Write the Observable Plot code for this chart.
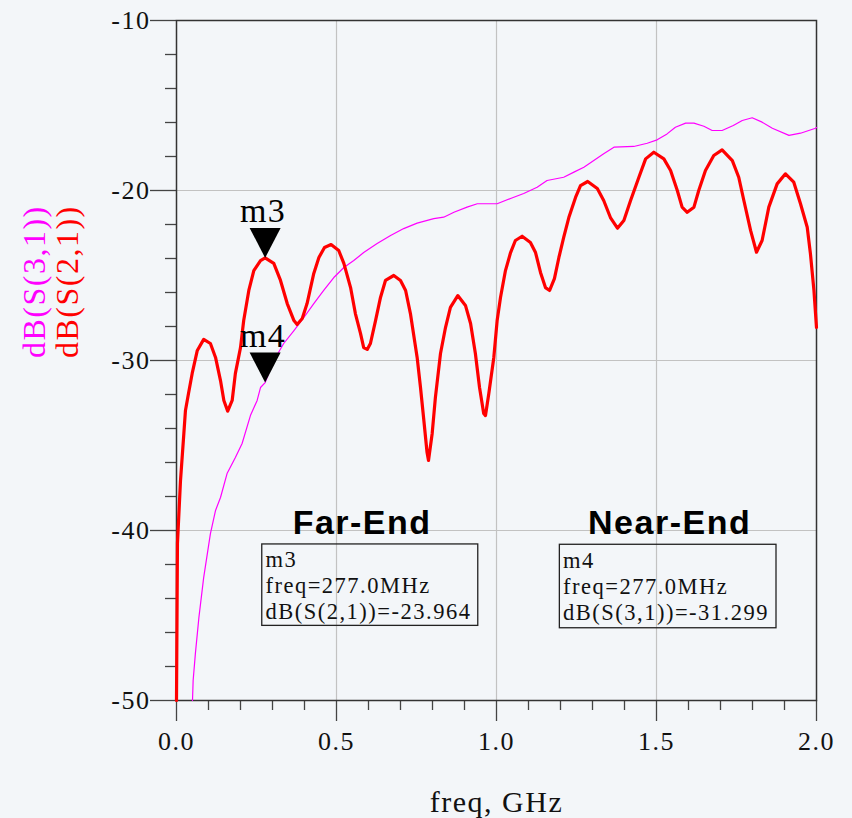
<!DOCTYPE html>
<html>
<head>
<meta charset="utf-8">
<script src="https://cdn.jsdelivr.net/npm/d3@7"></script>
<script src="https://cdn.jsdelivr.net/npm/@observablehq/plot@0.6"></script>
<style>
  html, body { margin: 0; padding: 0; background: #f3f6f9; }
  #chart { width: 852px; height: 818px; }
</style>
</head>
<body>
<div id="chart"></div>
<script>
// ---- Data ----
// dB(S(2,1)) — far-end (red)
const freqS21 = [0, 0.003, 0.0125, 0.023, 0.028, 0.0375, 0.049, 0.065, 0.085, 0.106, 0.122, 0.1375, 0.148, 0.160, 0.174, 0.184, 0.2, 0.21, 0.226, 0.2416, 0.2625, 0.277, 0.304, 0.325, 0.346, 0.367, 0.377, 0.393, 0.408, 0.429, 0.445, 0.4625, 0.483, 0.507, 0.523, 0.544, 0.559, 0.575, 0.585, 0.596, 0.606, 0.622, 0.6375, 0.653, 0.679, 0.7, 0.716, 0.731, 0.752, 0.7625, 0.773, 0.783, 0.7875, 0.799, 0.809, 0.825, 0.8406, 0.856, 0.879, 0.903, 0.919, 0.934, 0.947, 0.960, 0.9656, 0.976, 0.9916, 1.002, 1.0125, 1.028, 1.044, 1.059, 1.080, 1.106, 1.122, 1.1375, 1.153, 1.166, 1.181, 1.195, 1.210, 1.226, 1.247, 1.2625, 1.285, 1.315, 1.335, 1.356, 1.378, 1.398, 1.419, 1.445, 1.466, 1.4916, 1.523, 1.544, 1.565, 1.580, 1.596, 1.617, 1.632, 1.653, 1.679, 1.705, 1.737, 1.757, 1.773, 1.794, 1.8125, 1.830, 1.851, 1.877, 1.903, 1.929, 1.95, 1.971, 1.981, 1.992, 2.0];
const dbS21 = [-50, -40.76, -37.06, -34.29, -32.94, -31.94, -30.76, -29.41, -28.76, -29.0, -29.82, -31.18, -32.35, -32.98, -32.35, -30.76, -29.24, -27.65, -25.88, -24.71, -24.12, -23.964, -24.29, -25.29, -26.65, -27.65, -27.88, -27.53, -26.65, -24.88, -23.94, -23.35, -23.18, -23.53, -24.29, -25.71, -27.24, -28.41, -29.24, -29.35, -29.0, -27.65, -26.29, -25.29, -25.0, -25.29, -25.88, -27.24, -29.82, -31.59, -33.53, -35.41, -35.88, -34.29, -32.18, -29.59, -28.06, -26.88, -26.18, -26.76, -27.82, -29.59, -31.59, -33.12, -33.24, -31.94, -29.82, -27.65, -26.29, -24.71, -23.65, -22.94, -22.69, -23.06, -23.65, -24.82, -25.71, -25.88, -25.18, -23.94, -22.76, -21.59, -20.41, -19.71, -19.47, -19.88, -20.59, -21.59, -22.22, -21.76, -20.59, -19.22, -18.14, -17.75, -18.14, -18.82, -20.0, -20.98, -21.28, -20.98, -20.0, -18.82, -17.94, -17.61, -18.24, -19.22, -20.59, -22.35, -23.63, -22.94, -20.98, -19.61, -19.02, -19.51, -20.78, -22.16, -23.71, -25.88, -28.06];

// dB(S(3,1)) — near-end (magenta)
const freqS31 = [0.05, 0.052, 0.059, 0.070, 0.085, 0.106, 0.122, 0.1375, 0.158, 0.184, 0.205, 0.231, 0.252, 0.2625, 0.277, 0.304, 0.335, 0.367, 0.398, 0.429, 0.460, 0.4916, 0.523, 0.554, 0.585, 0.627, 0.669, 0.710, 0.752, 0.804, 0.835, 0.867, 0.908, 0.940, 1.002, 1.044, 1.085, 1.127, 1.158, 1.210, 1.242, 1.273, 1.304, 1.335, 1.367, 1.429, 1.471, 1.502, 1.533, 1.559, 1.591, 1.617, 1.648, 1.674, 1.705, 1.740, 1.768, 1.799, 1.830, 1.862, 1.914, 1.95, 1.997, 2.0];
const dbS31 = [-50, -48.82, -47.24, -45.12, -42.76, -40.18, -38.82, -38.06, -36.65, -35.71, -34.88, -33.24, -32.35, -31.59, -31.299, -30.0, -29.0, -28.24, -27.47, -26.65, -25.88, -25.12, -24.53, -24.12, -23.65, -23.12, -22.65, -22.24, -21.92, -21.65, -21.57, -21.28, -20.98, -20.78, -20.78, -20.47, -20.18, -19.81, -19.41, -19.22, -18.92, -18.63, -18.24, -17.84, -17.45, -17.41, -17.22, -17.02, -16.67, -16.28, -16.04, -16.04, -16.22, -16.47, -16.47, -16.18, -15.88, -15.72, -15.98, -16.34, -16.76, -16.63, -16.34, -16.29];

// Markers
const markerNames = ["m3", "m4"];
const markerFreq = [0.277, 0.277];
const markerDb = [-23.964, -31.299];

// Readout boxes (positions in data units: GHz / dB)
const boxTitles = ["Far-End", "Near-End"];
const boxTitleFreq = [0.580, 1.541];
const boxTitleDb = [-40.21, -40.21];
const boxLines = [
  "m3\nfreq=277.0MHz\ndB(S(2,1))=-23.964",
  "m4\nfreq=277.0MHz\ndB(S(3,1))=-31.299"
];
const boxX1 = [0.268, 1.198];
const boxX2 = [0.943, 1.875];
const boxY1 = [-40.82, -40.84];
const boxY2 = [-45.61, -45.75];
const boxTextFreq = [0.278, 1.208];
const boxTextDb = [-45.18, -45.25];

// Ticks
const xMajor = [0, 0.5, 1.0, 1.5, 2.0];
const xMinor = d3.range(0, 21).map(i => i / 10).filter(v => Math.round(v * 10) % 5 !== 0);
const yMajor = [-50, -40, -30, -20, -10];
const yMinor = d3.range(-48, -10, 2).filter(v => v % 10 !== 0);
const xGrid = [0.5, 1.0, 1.5];
const yGrid = [-20, -30, -40];

const yTitles = ["dB(S(3,1))", "dB(S(2,1))"];
const xTitle = "freq, GHz";

// ---- Build tables ----
const s21 = freqS21.map((f, i) => ({f, db: dbS21[i]}));
const s31 = freqS31.map((f, i) => ({f, db: dbS31[i]}));
const markers = markerNames.map((name, i) => ({name, f: markerFreq[i], db: markerDb[i]}));
const boxes = boxTitles.map((title, i) => ({
  title, tf: boxTitleFreq[i], tdb: boxTitleDb[i],
  text: boxLines[i], x1: boxX1[i], x2: boxX2[i], y1: boxY1[i], y2: boxY2[i],
  xf: boxTextFreq[i], xdb: boxTextDb[i]
}));

// down-pointing triangle with its tip on the data point
const downTriangle = {
  draw(context, size) {
    const k = Math.sqrt(size) / Math.sqrt(Math.PI * 100);
    context.moveTo(0, 0);
    context.lineTo(-15.5 * k, -30 * k);
    context.lineTo(15.5 * k, -30 * k);
    context.closePath();
  }
};

const serif = "'Liberation Serif', 'Times New Roman', serif";
const sans = "'Liberation Sans', Arial, sans-serif";

const chart = Plot.plot({
  width: 852,
  height: 818,
  marginLeft: 176,
  marginRight: 36,
  marginTop: 20,
  marginBottom: 118,
  style: {background: "transparent", fontFamily: serif, letterSpacing: "1.5px", overflow: "visible", color: "#111"},
  x: {domain: [0, 2], label: null},
  y: {domain: [-50, -10], label: null},
  marks: [
    Plot.ruleX(xGrid, {stroke: "#c2c2c2", strokeWidth: 1.2}),
    Plot.ruleY(yGrid, {stroke: "#c2c2c2", strokeWidth: 1.2}),
    Plot.axisY(yMinor, {tickSize: 11, tickFormat: () => "", stroke: "#444", strokeWidth: 1.3, label: null}),
    Plot.axisY(yMajor, {tickSize: 26, tickPadding: 0, tickFormat: d => String(d), fontSize: 26, stroke: "#444", strokeWidth: 1.3, fill: "#111", label: null}),
    Plot.axisX(xMinor, {tickSize: 10, tickFormat: () => "", stroke: "#444", strokeWidth: 1.3, label: null}),
    Plot.axisX(xMajor, {tickSize: 21, tickPadding: 10, tickFormat: d3.format(".1f"), fontSize: 26, stroke: "#444", strokeWidth: 1.3, fill: "#111", label: null}),
    Plot.frame({stroke: "#333", strokeWidth: 1.5}),
    Plot.line(s31, {x: "f", y: "db", stroke: "#ff00ff", strokeWidth: 1.2}),
    Plot.line(s21, {x: "f", y: "db", stroke: "#ff0000", strokeWidth: 3.2, strokeLinejoin: "round"}),
    Plot.dot(markers, {x: "f", y: "db", symbol: downTriangle, r: 10, fill: "black", stroke: "none"}),
    Plot.text(markers, {x: "f", y: "db", text: "name", fontSize: 34, dy: -35.5, dx: -2, lineAnchor: "bottom", fill: "black"}),
    Plot.text(boxes, {x: "tf", y: "tdb", text: "title", fontFamily: sans, fontWeight: "bold", fontSize: 34, lineAnchor: "bottom", fill: "black"}),
    Plot.rect(boxes, {x1: "x1", x2: "x2", y1: "y1", y2: "y2", fill: "none", stroke: "#222", strokeWidth: 1.3}),
    Plot.text(boxes, {x: "xf", y: "xdb", text: "text", fontSize: 22.5, lineHeight: 26 / 22.5, textAnchor: "start", lineAnchor: "bottom", fill: "#111"}),
    Plot.text([yTitles[0]], {frameAnchor: "left", text: d => d, rotate: -90, dx: -132, dy: -2.5, fontSize: 32, lineAnchor: "bottom", fill: "#ff00ff"}),
    Plot.text([yTitles[1]], {frameAnchor: "left", text: d => d, rotate: -90, dx: -99, dy: -2.5, fontSize: 32, lineAnchor: "bottom", fill: "#ff0000"}),
    Plot.text([xTitle], {frameAnchor: "bottom", text: d => d, dy: 111, fontSize: 30, lineAnchor: "bottom", fill: "#111"})
  ]
});
document.getElementById("chart").appendChild(chart);
</script>
</body>
</html>
